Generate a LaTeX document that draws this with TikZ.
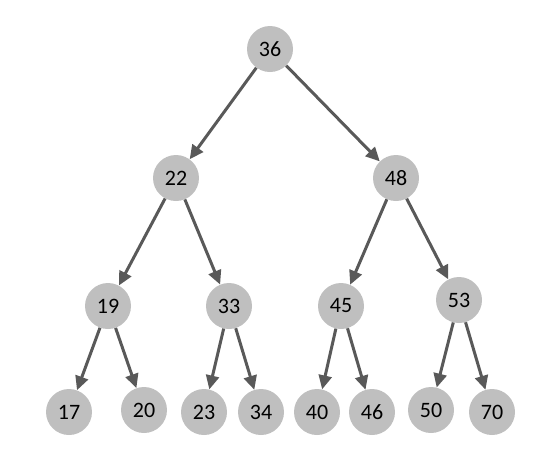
\documentclass[tikz,border=0pt]{standalone}
\usepackage{fontspec}
\setmainfont{Carlito}
\usetikzlibrary{arrows.meta}
\begin{document}
\begin{tikzpicture}[x=1pt,y=-1pt,
  nd/.style={circle,fill=nodegray,draw=none,minimum size=46pt,inner sep=0pt,font=\fontsize{22}{26}\selectfont},
  edge/.style={draw=edgegray,line width=3pt,-{Triangle[length=14pt,width=13pt]},shorten >=0pt}]
\definecolor{nodegray}{HTML}{BFBFBF}
\definecolor{edgegray}{HTML}{595959}
\useasboundingbox (0,0) rectangle (547,459);
\node[nd] (n36) at (270,49) {36};
\node[nd] (n22) at (176,178) {22};
\node[nd] (n48) at (396,178) {48};
\node[nd] (n19) at (108,306) {19};
\node[nd] (n33) at (229,306) {33};
\node[nd] (n45) at (341,306) {45};
\node[nd] (n53) at (459,300) {53};
\node[nd] (n17) at (69,412) {17};
\node[nd] (n20) at (144,410) {20};
\node[nd] (n23) at (204,412) {23};
\node[nd] (n34) at (261,412) {34};
\node[nd] (n40) at (317,412) {40};
\node[nd] (n46) at (372,412) {46};
\node[nd] (n50) at (431,410) {50};
\node[nd] (n70) at (492,412) {70};
\draw[edge] (n36) -- (n22);
\draw[edge] (n36) -- (n48);
\draw[edge] (n22) -- (n19);
\draw[edge] (n22) -- (n33);
\draw[edge] (n48) -- (n45);
\draw[edge] (n48) -- (n53);
\draw[edge] (n19) -- (n17);
\draw[edge] (n19) -- (n20);
\draw[edge] (n33) -- (n23);
\draw[edge] (n33) -- (n34);
\draw[edge] (n45) -- (n40);
\draw[edge] (n45) -- (n46);
\draw[edge] (n53) -- (n50);
\draw[edge] (n53) -- (n70);
\end{tikzpicture}
\end{document}
